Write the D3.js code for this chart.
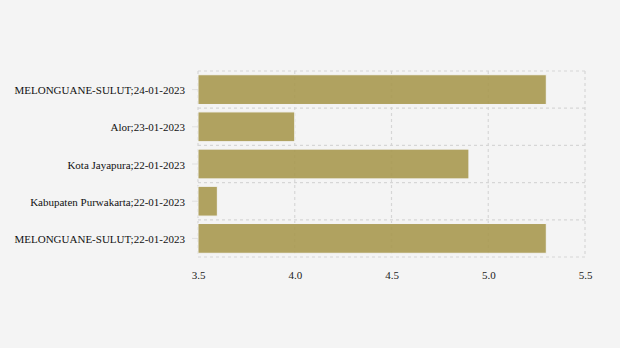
<!DOCTYPE html>
<html>
<head>
<script src="https://d3js.org/d3.v7.min.js"></script>
<style>
  body { margin: 0; background: #f4f4f4; }
  svg text { font-family: "Liberation Serif", "Times New Roman", serif !important; }
</style>
</head>
<body>
<div id="chart"></div>
<script>
  const categories = [
    "MELONGUANE-SULUT;24-01-2023",
    "Alor;23-01-2023",
    "Kota Jayapura;22-01-2023",
    "Kabupaten Purwakarta;22-01-2023",
    "MELONGUANE-SULUT;22-01-2023"
  ]
  const values = [5.3, 4.0, 4.9, 3.6, 5.3]
  const xTicks = [3.5, 4.0, 4.5, 5.0, 5.5]

  const width = 620
  const height = 348
  const margin = { top: 71, right: 35, bottom: 91, left: 198 }

  const svg = d3.select("#chart").append("svg")
    .attr("width", width).attr("height", height)

  const xScale = d3.scaleLinear()
    .domain([3.5, 5.5])
    .range([margin.left, width - margin.right])

  const yScale = d3.scaleBand()
    .domain(categories)
    .range([margin.top, height - margin.bottom])
    .paddingInner(0.2)
    .paddingOuter(0.1)

  // grid
  const grid = svg.append("g")
  grid.selectAll("line.v")
    .data(xTicks)
    .enter().append("line")
    .attr("x1", d => xScale(d)).attr("x2", d => xScale(d))
    .attr("y1", margin.top).attr("y2", height - margin.bottom)
    .attr("stroke", "#d6d6d6").attr("stroke-width", 1.2).attr("stroke-dasharray", "3,3")

  const bounds = d3.range(categories.length + 1).map(i => margin.top + i * (height - margin.top - margin.bottom) / categories.length)
  grid.selectAll("line.h")
    .data(bounds)
    .enter().append("line")
    .attr("x1", margin.left).attr("x2", width - margin.right)
    .attr("y1", d => d).attr("y2", d => d)
    .attr("stroke", "#d6d6d6").attr("stroke-width", 1.2).attr("stroke-dasharray", "3,3")

  // bars
  svg.selectAll("rect.bar")
    .data(values)
    .enter().append("rect")
    .attr("class", "bar")
    .attr("x", xScale(3.5))
    .attr("y", (d, i) => yScale(categories[i]))
    .attr("width", d => xScale(d) - xScale(3.5))
    .attr("height", yScale.bandwidth())
    .attr("fill", "#a99a52")
    .attr("fill-opacity", 0.92)
    .attr("stroke", "#f4f4f4")
    .attr("stroke-width", 1)

  // x axis
  const xAxis = svg.append("g")
    .attr("transform", "translate(0," + (height - margin.bottom) + ")")
    .call(d3.axisBottom(xScale).tickValues(xTicks).tickFormat(d3.format(".1f")).tickSize(0).tickPadding(14))
  xAxis.select(".domain").remove()
  xAxis.selectAll("text").attr("font-size", 11).attr("fill", "#222")

  // y axis
  const yAxis = svg.append("g")
    .attr("transform", "translate(" + margin.left + ",0)")
    .call(d3.axisLeft(yScale).tickSize(6).tickPadding(7))
  yAxis.select(".domain").remove()
  yAxis.selectAll(".tick line").attr("stroke", "#e0e0e0")
  yAxis.selectAll("text").attr("font-size", 11).attr("fill", "#111").attr("dy", "0.42em")
</script>
</body>
</html>
